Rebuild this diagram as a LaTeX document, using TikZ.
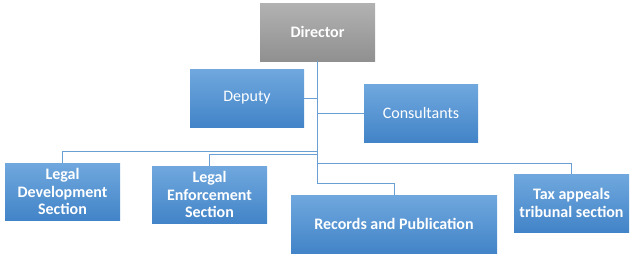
\documentclass[tikz,border=0pt]{standalone}
\usepackage{fontspec}
\setmainfont{Carlito}
\definecolor{boxtop}{HTML}{70A8DE}
\definecolor{boxbot}{HTML}{4284C8}
\definecolor{graytop}{HTML}{B2B2B2}
\definecolor{graybot}{HTML}{909090}
\definecolor{linec}{HTML}{6A9FD4}
\tikzset{
  box/.style={draw=none, top color=boxtop, bottom color=boxbot, text=white,
    minimum width=115pt, minimum height=58pt, inner sep=1pt, align=center,
    font=\fontsize{16}{17.5}\selectfont},
  boldbox/.style={box, font=\fontsize{16}{17.5}\selectfont\bfseries},
  dirbox/.style={box, top color=graytop, bottom color=graybot, font=\fontsize{16}{17.5}\selectfont\bfseries},
  conn/.style={draw=linec, line width=1pt}
}
\begin{document}
\begin{tikzpicture}[x=1pt,y=-1pt]
\useasboundingbox (0,0) rectangle (636,257);
\node[dirbox] (dir) at (317.5,32) {Director};
\node[box, minimum width=114pt] (dep) at (247,98) {Deputy};
\node[box, minimum width=114pt] (con) at (421,113) {Consultants};
\node[boldbox, minimum height=57pt] (ldev) at (62.5,191.5) {Legal\\Development\\Section};
\node[boldbox, minimum height=57pt] (lenf) at (209.5,194.5) {Legal\\Enforcement\\Section};
\node[boldbox, minimum width=206pt] (rec) at (394,224) {Records and Publication};
\node[boldbox] (tax) at (571.5,203) {Tax appeals\\tribunal section};
\coordinate (tend) at (317,183);
\coordinate (jdev) at (317,151);
\coordinate (jenf) at (317,154);
\coordinate (jtax) at (317,163);
\draw[conn] (dir.south -| tend) -- (tend) -| (rec.north);
\draw[conn] (dep.east) -- (dep.east -| tend);
\draw[conn] (con.west -| tend) -- (con.west);
\draw[conn] (jdev) -| (ldev.north);
\draw[conn] (jenf) -| (lenf.north);
\draw[conn] (jtax) -| (tax.north);
\end{tikzpicture}
\end{document}
